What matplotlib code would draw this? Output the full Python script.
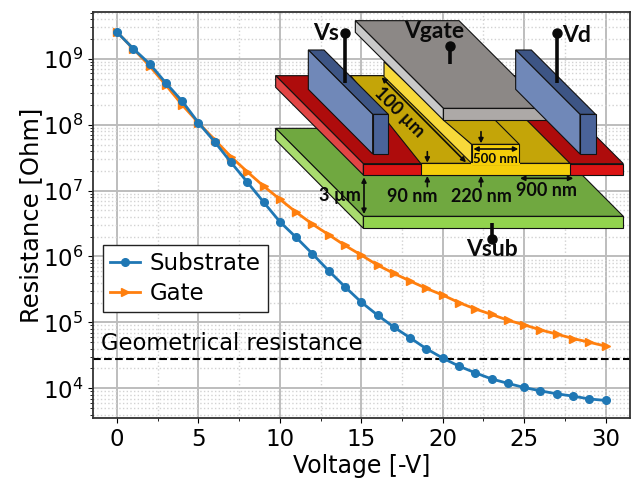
import matplotlib
matplotlib.use('Agg')
import matplotlib.pyplot as plt
import numpy as np
from matplotlib.patches import Polygon, Rectangle
from matplotlib.ticker import LogLocator, MultipleLocator, NullFormatter

# --- data ---
voltage = np.arange(0, 31)
substrate = [2.54e9, 1.42e9, 8.4e8, 4.3e8, 2.28e8, 1.07e8, 5.5e7, 2.68e7, 1.35e7, 6.7e6,
             3.37e6, 1.95e6, 1.1e6, 6.07e5, 3.47e5, 2.03e5, 1.29e5, 8.5e4, 5.83e4, 3.98e4,
             2.88e4, 2.17e4, 1.72e4, 1.39e4, 1.19e4, 1.03e4, 9.16e3, 8.26e3, 7.62e3, 6.9e3, 6.55e3]
gate = [2.54e9, 1.42e9, 7.8e8, 4.0e8, 2.0e8, 1.07e8, 5.9e7, 3.26e7, 1.93e7, 1.17e7,
        7.4e6, 4.7e6, 3.1e6, 2.14e6, 1.47e6, 1.05e6, 7.4e5, 5.55e5, 4.24e5, 3.28e5,
        2.6e5, 2.0e5, 1.6e5, 1.32e5, 1.08e5, 9.2e4, 7.7e4, 6.65e4, 5.7e4, 5.0e4, 4.37e4]
geo_resistance = 2.8e4
y_ticks = [1e4, 1e5, 1e6, 1e7, 1e8, 1e9]

W, H = 633, 479
fig = plt.figure(figsize=(W / 100, H / 100), dpi=100)
ax = fig.add_axes([93 / W, 1 - 418 / H, (630 - 93) / W, (418 - 12) / H])

ax.set_yscale('log')
ax.plot(voltage, gate, color='#ff7f0e', marker='>', ms=6, lw=2, label='Gate', zorder=3)
ax.plot(voltage, substrate, color='#1f77b4', marker='o', ms=5.5, lw=2, label='Substrate', zorder=4)
ax.axhline(geo_resistance, color='k', ls='--', lw=1.5, zorder=2)
ax.text(-0.95, 3.25e4, 'Geometrical resistance', fontsize=16.3, ha='left', va='bottom')

ax.set_xlim(-1.47, 31.5)
ax.set_ylim(10 ** 3.55, 10 ** 9.709)
ax.xaxis.set_major_locator(MultipleLocator(5))
ax.xaxis.set_minor_locator(MultipleLocator(2.5))
ax.set_yticks(y_ticks)
ax.yaxis.set_minor_locator(LogLocator(base=10, subs=np.arange(2, 10) * 0.1, numticks=12))
ax.yaxis.set_minor_formatter(NullFormatter())
ax.grid(True, which='major', color='#bdbdbd', lw=1.4)
ax.grid(True, which='minor', color='#d2d2d2', lw=1, ls=':')
ax.set_axisbelow(True)
ax.tick_params(axis='both', which='major', labelsize=16.5)
ax.set_xlabel('Voltage [-V]', fontsize=17, labelpad=2)
ax.set_ylabel('Resistance [Ohm]', fontsize=17.5, labelpad=0)
for s in ax.spines.values():
    s.set_color('#333333')
    s.set_linewidth(1.3)

handles, labels = ax.get_legend_handles_labels()
ax.legend(handles[::-1], labels[::-1], fontsize=16.5, loc='lower left', bbox_to_anchor=(103 / W, 1 - 312 / H),
          bbox_transform=fig.transFigure, fancybox=False, framealpha=1, edgecolor='#222222',
          borderaxespad=0, borderpad=0.3, labelspacing=0.3, handlelength=1.3, handletextpad=0.45)

# --- device sketch, in its own transparent axes (units = 1/3 pixel) ---
sk = fig.add_axes([260 / W, 1 - 270 / H, 371 / W, 270 / H])
sk.set_xlim(0, 1113)
sk.set_ylim(810, 0)
sk.axis('off')
sk.patch.set_alpha(0)


def poly(pts, col):
    sk.add_patch(Polygon(pts, closed=True, fc=col, ec='#111111', lw=0.8))


def pin(x, y0, y1):
    sk.plot([x, x], [y0, y1], color='#0a0a0a', lw=2.6, solid_capstyle='butt')
    sk.plot([x], [y0], 'o', color='#0a0a0a', ms=6.5)


def arrow(p0, p1, style='<|-|>', lw=1.2):
    sk.annotate('', xy=p1, xytext=p0,
                arrowprops=dict(arrowstyle=style, color='#0a0a0a', lw=lw, mutation_scale=7,
                                shrinkA=0, shrinkB=0))


# green substrate
poly([(47, 385), (310, 649), (1090, 649), (827, 385)], '#70A840')
poly([(47, 385), (310, 649), (310, 685), (47, 420)], '#A9DC6E')
poly([(310, 649), (1090, 649), (1090, 685), (310, 685)], '#92D34E')
# red layer
poly([(47, 227), (310, 491), (1090, 491), (827, 227)], '#AE0C0C')
poly([(47, 227), (310, 491), (310, 525), (47, 262)], '#E24444')
poly([(310, 491), (1090, 491), (1090, 525), (310, 525)], '#DC1414')
# yellow channel
poly([(272, 227), (482, 490), (930, 490), (667, 227)], '#C4A508')
poly([(482, 490), (930, 490), (930, 525), (482, 525)], '#F5CE0A')
# ridge
poly([(372, 185), (635, 433), (635, 490), (372, 230)], '#F7D93A')
poly([(550, 360), (705, 360), (778, 433), (635, 433)], '#C4A508')
sk.add_patch(Rectangle((635, 433), 143, 58, fc='#F5CE0A', ec='#111111', lw=0.8))
sk.plot([636, 777], [491, 491], color='#F5CE0A', lw=1.5)
# gate
poly([(286, 62), (550, 325), (860, 325), (597, 62)], '#8C8886')
poly([(286, 62), (550, 325), (550, 360), (286, 97)], '#C9C9C9')
poly([(550, 325), (860, 325), (860, 360), (550, 360)], '#ADA9A7')
# source and drain contacts
for dx in (0, 622):
    poly([(145 + dx, 150), (192 + dx, 150), (385 + dx, 343), (338 + dx, 343)], '#3D5585')
    poly([(145 + dx, 150), (338 + dx, 343), (338 + dx, 462), (145 + dx, 268)], '#7088B8')
    poly([(338 + dx, 343), (385 + dx, 343), (385 + dx, 462), (338 + dx, 462)], '#4A6399')

pin(255, 100, 250)
pin(570, 138, 192)
pin(890, 100, 250)
pin(697, 718, 670)

arrow((365, 232), (618, 487))
arrow((312, 532), (312, 642))
arrow((640, 447), (775, 447))
arrow((780, 535), (940, 535))
arrow((502, 455), (502, 488), '-|>')
arrow((502, 560), (502, 528), '-|>')
arrow((663, 395), (663, 430), '-|>')
arrow((663, 560), (663, 528), '-|>')

lab = dict(family='Lato', color='#0a0a0a', ha='center', va='center', fontweight='bold')
sk.text(198, 100, 'Vs', fontsize=16.5, **lab)
sk.text(522, 93, 'Vgate', fontsize=16.5, **lab)
sk.text(950, 105, 'Vd', fontsize=16.5, **lab)
sk.text(697, 750, 'Vsub', fontsize=16.5, **lab)
sk.text(418, 338, '100 µm', fontsize=13, rotation=-45, rotation_mode='anchor', **lab)
sk.text(241, 588, '3 µm', fontsize=13, **lab)
sk.text(456, 588, '90 nm', fontsize=13, **lab)
sk.text(663, 588, '220 nm', fontsize=13, **lab)
sk.text(859, 570, '900 nm', fontsize=13, **lab)
sk.text(707, 476, '500 nm', fontsize=9.5, **lab)

fig.savefig('out.png', dpi=100)
